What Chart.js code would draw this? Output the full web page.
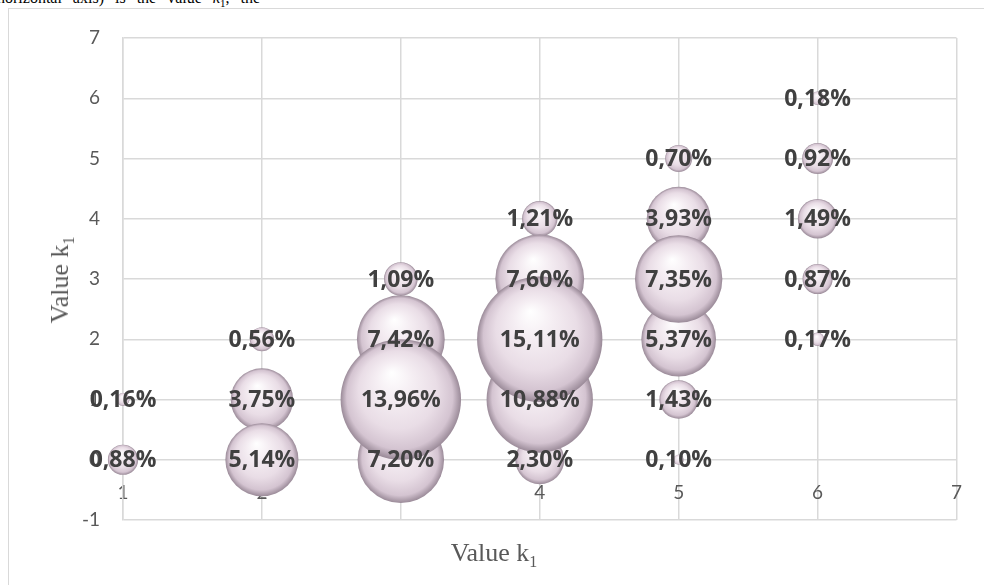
<!DOCTYPE html>
<html lang="en">
<head>
<meta charset="utf-8">
<title>Value k1 bubble chart</title>
<script src="https://cdn.jsdelivr.net/npm/chart.js@4.4.0/dist/chart.umd.min.js"></script>
<style>
  body { margin: 0; background: #fff; overflow: hidden; }
  #wrap { position: relative; width: 984px; height: 585px; overflow: hidden; background: #fff; }
  #frame { position: absolute; left: 8px; top: 8px; width: 1100px; height: 700px; border: 1.5px solid #d9d9d9; }
  #top-text { position: absolute; left: -3px; top: -10px; font: 16px "Liberation Serif"; line-height: 16px; word-spacing: 7px; white-space: nowrap; color: #000; }
  #top-text sub { font-size: 11px; }
  .axis-title { position: absolute; font: 26px "Liberation Serif"; line-height: 30px; color: #595959; white-space: nowrap; }
  .axis-title sub { font-size: 16px; line-height: 0; }
  #x-title { left: 494px; top: 538px; transform: translateX(-50%); }
  #y-title { left: 60px; top: 280px; transform: translate(-50%, -50%) rotate(-90deg); }
  canvas { position: absolute; left: 0; top: 0; }
</style>
</head>
<body>
<div id="wrap">
  <div id="top-text">horizontal axis) is the value <i>k</i><sub>1</sub>, the</div>
  <div id="frame"></div>
  <canvas id="bubble-chart" width="984" height="585"></canvas>
  <div class="axis-title" id="x-title">Value k<sub>1</sub></div>
  <div class="axis-title" id="y-title">Value k<sub>1</sub></div>
</div>
<script>
// tick labels
let xTicks = [1, 2, 3, 4, 5, 6, 7];
let yTicks = [-1, 0, 1, 2, 3, 4, 5, 6, 7];

// bubbles: column value, row value, share in %
let kX = [1, 1, 2, 2, 2, 3, 3, 3, 3, 4, 4, 4, 4, 4, 5, 5, 5, 5, 5, 5, 6, 6, 6, 6, 6];
let kY = [1, 0, 2, 1, 0, 3, 2, 1, 0, 4, 3, 2, 1, 0, 5, 4, 3, 2, 1, 0, 6, 5, 4, 3, 2];
let share = [0.16, 0.88, 0.56, 3.75, 5.14, 1.09, 7.42, 13.96, 7.20, 1.21, 7.60, 15.11, 10.88, 2.30,
             0.70, 3.93, 7.35, 5.37, 1.43, 0.10, 0.18, 0.92, 1.49, 0.87, 0.17];

// layout of the plot area (canvas px)
let pad = { left: 0, top: 38, right: 24, bottom: 65 };
let canvasW = 984, canvasH = 585, yAxisW = 123;

// like excel: biggest bubble ~1/4 of the shorter plot side (diameter), area ~ value
let plotW = canvasW - pad.left - pad.right - yAxisW;
let plotH = canvasH - pad.top - pad.bottom;
let maxR = 0.13 * Math.min(plotW, plotH);
let maxShare = Math.max.apply(null, share);

// small bubbles first, big ones drawn over them
let points = kX.map(function (x, i) {
    return { x: x, y: kY[i], v: share[i], r: maxR * Math.sqrt(share[i] / maxShare) };
});
points.sort(function (a, b) { return a.v - b.v; });

// bubbles may hang over the plot edges, don't let chart.js shrink the plot for them
Chart.BubbleController.prototype.getMaxOverflow = function () { return 0; };

function bubbleFill(c) {
    let chart = c.chart;
    if (!chart.chartArea || !c.raw || !chart.scales.x) return '#e9dde6';
    let cx = chart.scales.x.getPixelForValue(c.raw.x);
    let cy = chart.scales.y.getPixelForValue(c.raw.y);
    let r = c.raw.r;
    if (!isFinite(cx) || !isFinite(cy)) return '#e9dde6';
    let g = chart.ctx.createRadialGradient(cx - 0.15 * r, cy - 0.45 * r, 0, cx, cy, r);
    g.addColorStop(0, '#ffffff');
    g.addColorStop(0.3, '#f5eef3');
    g.addColorStop(0.65, '#e9dde6');
    g.addColorStop(0.88, '#d4c4d1');
    g.addColorStop(1, '#9a8a98');
    return g;
}

function fmt(v) {
    return v.toFixed(2).replace('.', ',') + '%';
}

let valueLabels = {
    id: 'valueLabels',
    afterDatasetsDraw: function (chart) {
        let ctx = chart.ctx;
        let meta = chart.getDatasetMeta(0);
        ctx.save();
        ctx.font = 'bold 23px "Open Sans"';
        ctx.fillStyle = '#404040';
        ctx.textAlign = 'center';
        ctx.textBaseline = 'middle';
        meta.data.forEach(function (el, i) {
            ctx.fillText(fmt(points[i].v), el.x, el.y + 1);
        });
        ctx.restore();
    }
};

new Chart(document.getElementById('bubble-chart'), {
    type: 'bubble',
    data: {
        datasets: [{
            data: points,
            backgroundColor: bubbleFill,
            borderWidth: 0,
            clip: false
        }]
    },
    options: {
        responsive: false,
        animation: false,
        devicePixelRatio: 1,
        layout: { padding: pad },
        plugins: {
            legend: { display: false },
            tooltip: { enabled: false }
        },
        scales: {
            x: {
                type: 'linear',
                position: { y: 0 },
                min: xTicks[0],
                max: xTicks[xTicks.length - 1],
                afterBuildTicks: function (s) { s.ticks = xTicks.map(function (v) { return { value: v }; }); },
                grid: { color: '#d9d9d9', lineWidth: 1.5, drawTicks: false },
                border: { display: false },
                ticks: { color: '#595959', font: { family: 'Lato', size: 19 }, padding: 22 }
            },
            y: {
                type: 'linear',
                min: yTicks[0],
                max: yTicks[yTicks.length - 1],
                afterBuildTicks: function (s) { s.ticks = yTicks.map(function (v) { return { value: v }; }); },
                afterFit: function (s) { s.width = yAxisW; },
                grid: { color: '#d9d9d9', lineWidth: 1.5, drawTicks: false },
                border: { display: true, color: '#d9d9d9', width: 1.5 },
                ticks: { color: '#595959', font: { family: 'Lato', size: 19 }, padding: 23 }
            }
        }
    },
    plugins: [valueLabels]
});
</script>
</body>
</html>
